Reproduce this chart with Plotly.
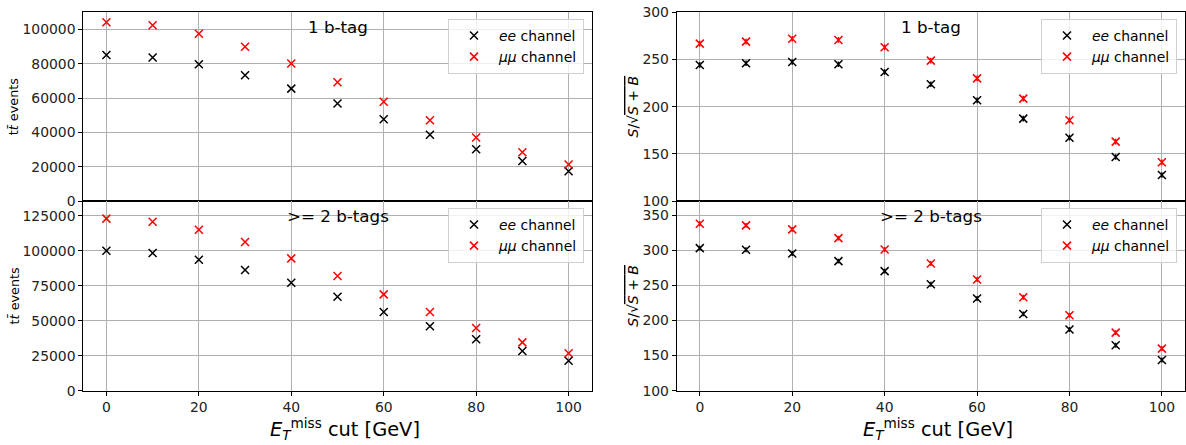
import plotly.graph_objects as go

# ---- data ----
met_cut = [0, 10, 20, 30, 40, 50, 60, 70, 80, 90, 100]

ee_events_1b = [85100, 83700, 79700, 73300, 65500, 56800, 47700, 38600, 30200, 23300, 17300]
mm_events_1b = [104200, 102500, 97500, 89900, 80200, 69200, 57900, 47100, 37000, 28400, 21300]

ee_events_2b = [100000, 98300, 93600, 86200, 77100, 67100, 56200, 46000, 36700, 28300, 21400]
mm_events_2b = [122900, 120700, 115000, 106200, 94500, 81900, 68800, 56200, 44800, 34500, 26700]

ee_sig_1b = [244.2, 246.0, 247.3, 244.9, 236.7, 223.7, 206.7, 187.3, 167.1, 146.6, 127.6]
mm_sig_1b = [266.8, 268.9, 272.0, 270.7, 262.9, 248.8, 230.0, 208.5, 185.5, 162.9, 141.0]
ee_sig_1b_err = [3, 3, 3, 3, 3, 3, 3, 3, 3, 3, 3]
mm_sig_1b_err = [3, 3, 3, 3, 3, 3, 3, 3, 3, 3, 3]

ee_sig_2b = [302.9, 300.6, 295.3, 284.4, 270.2, 251.6, 231.2, 209.3, 187.0, 164.6, 143.7]
mm_sig_2b = [337.6, 335.3, 329.6, 317.2, 301.0, 281.1, 258.3, 233.1, 207.4, 182.7, 159.9]
ee_sig_2b_err = [3.5, 3.5, 3.5, 3.5, 3.5, 3.5, 3.5, 3.5, 3.5, 3.5, 3.5]
mm_sig_2b_err = [3.5, 3.5, 3.5, 3.5, 3.5, 3.5, 3.5, 3.5, 3.5, 3.5, 3.5]

panel_labels = ["1 b-tag", ">= 2 b-tags"]
series_names = ["<i>ee</i> channel", "<i>μμ</i> channel"]
colors = ["black", "red"]
ytitle_ev = "t<i>t̄</i> events"
ytitle_sig = "<i>S</i>/√<span style='text-decoration:overline'><i>S</i> + <i>B</i></span>"

W, H = 1186, 445
FONT = "DejaVu Sans"

def px_x(p):
    return p / W

def px_y(p):
    return (H - p) / H

fig = go.Figure()

panels = [
    (1, ee_events_1b, mm_events_1b, None, None),
    (2, ee_sig_1b, mm_sig_1b, ee_sig_1b_err, mm_sig_1b_err),
    (3, ee_events_2b, mm_events_2b, None, None),
    (4, ee_sig_2b, mm_sig_2b, ee_sig_2b_err, mm_sig_2b_err),
]

for idx, ee, mm, ee_err, mm_err in panels:
    xa = "x" if idx == 1 else f"x{idx}"
    ya = "y" if idx == 1 else f"y{idx}"
    lg = "legend" if idx == 1 else f"legend{idx}"
    for name, vals, err, col in [(series_names[0], ee, ee_err, colors[0]),
                                 (series_names[1], mm, mm_err, colors[1])]:
        kw = {}
        if err is not None:
            kw["error_y"] = dict(type="data", array=err, visible=True,
                                 color=col, thickness=1.5, width=0)
        fig.add_trace(go.Scatter(
            x=met_cut, y=vals, mode="markers", name=name,
            marker=dict(symbol="x-thin", size=8, color=col,
                        line=dict(color=col, width=1.5)),
            xaxis=xa, yaxis=ya, legend=lg, showlegend=True, **kw))

left_dom = [px_x(83.3), px_x(591.7)]
right_dom = [px_x(676.7), px_x(1185.0)]
top_dom = [px_y(201.0), px_y(12.3)]
bot_dom = [px_y(390.7), px_y(201.0)]

TICKSZ = 13.9
common_x = dict(range=[-5, 105], tickvals=[0, 20, 40, 60, 80, 100],
                showgrid=True, gridcolor="#b0b0b0", gridwidth=0.8,
                showline=True, linecolor="black", linewidth=1, mirror=True,
                ticks="outside", ticklen=4, tickcolor="black",
                tickfont=dict(family=FONT, size=TICKSZ, color="#222"),
                zeroline=False, automargin=False)
common_y = dict(showgrid=True, gridcolor="#b0b0b0", gridwidth=0.8,
                showline=True, linecolor="black", linewidth=1, mirror=True,
                ticks="outside", ticklen=4, tickcolor="black",
                tickfont=dict(family=FONT, size=TICKSZ, color="#222"),
                tickformat="d", zeroline=False, automargin=False)

def ytitle(txt, size):
    return dict(text=txt, standoff=0, font=dict(family=FONT, size=size, color="black"))

fig.update_layout(
    xaxis=dict(domain=left_dom, anchor="y", matches="x3", showticklabels=False, **common_x),
    xaxis2=dict(domain=right_dom, anchor="y2", matches="x4", showticklabels=False, **common_x),
    xaxis3=dict(domain=left_dom, anchor="y3", **common_x),
    xaxis4=dict(domain=right_dom, anchor="y4", **common_x),
    yaxis=dict(domain=top_dom, anchor="x", range=[0, 110000], title=ytitle(ytitle_ev, 12.8),
               tickvals=[0, 20000, 40000, 60000, 80000, 100000], **common_y),
    yaxis2=dict(domain=top_dom, anchor="x2", range=[100, 300], title=ytitle(ytitle_sig, 14),
                tickvals=[100, 150, 200, 250, 300], **common_y),
    yaxis3=dict(domain=bot_dom, anchor="x3", range=[0, 135500], title=ytitle(ytitle_ev, 12.8),
                tickvals=[0, 25000, 50000, 75000, 100000, 125000], **common_y),
    yaxis4=dict(domain=bot_dom, anchor="x4", range=[100, 370], title=ytitle(ytitle_sig, 14),
                tickvals=[100, 150, 200, 250, 300, 350], **common_y),
)

legend_style = dict(xanchor="right", yanchor="top", bgcolor="rgba(255,255,255,0.8)",
                    bordercolor="#d0d0d0", borderwidth=1,
                    font=dict(family=FONT, size=13.9, color="black"),
                    tracegroupgap=2, itemwidth=40)
fig.update_layout(
    legend=dict(x=px_x(584), y=px_y(19), **legend_style),
    legend2=dict(x=px_x(1177), y=px_y(19), **legend_style),
    legend3=dict(x=px_x(584), y=px_y(208), **legend_style),
    legend4=dict(x=px_x(1177), y=px_y(208), **legend_style),
)

annotations = []
for xr, yr, txt in [("x", "y domain", panel_labels[0]), ("x2", "y2 domain", panel_labels[0]),
                    ("x3", "y3 domain", panel_labels[1]), ("x4", "y4 domain", panel_labels[1])]:
    annotations.append(dict(x=50, y=0.92, xref=xr, yref=yr, text=txt, showarrow=False,
                            xanchor="center", yanchor="middle",
                            font=dict(family=FONT, size=16.7, color="black")))

xtitle = "<i>E</i><sub><i>T</i></sub><sup>miss</sup> cut [GeV]"
for xc in [px_x(345), px_x(938)]:
    annotations.append(dict(x=xc, y=px_y(429), xref="paper", yref="paper", text=xtitle,
                            showarrow=False, xanchor="center", yanchor="middle",
                            font=dict(family=FONT, size=19.4, color="black")))

fig.update_layout(
    annotations=annotations,
    width=W, height=H,
    margin=dict(l=0, r=0, t=0, b=0),
    paper_bgcolor="white", plot_bgcolor="white",
    font=dict(family=FONT),
)

fig.write_html("out.html", config={"displayModeBar": False},
               post_script="document.body.style.margin='0';document.body.style.padding='0';document.body.style.overflow='hidden';")
